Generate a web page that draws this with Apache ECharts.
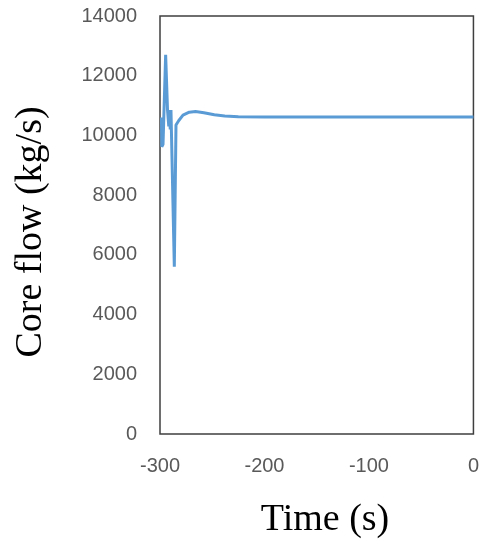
<!DOCTYPE html>
<html>
<head>
<meta charset="utf-8">
<script src="https://cdn.jsdelivr.net/npm/echarts@6/dist/echarts.min.js"></script>
<style>
  html, body { margin: 0; padding: 0; background: #fff; }
  #chart { width: 482px; height: 541px; }
</style>
</head>
<body>
<div id="chart"></div>
<script>
// Time (s) and core flow (kg/s) during the transient
const timeSec = [-298.6, -298.3, -297.1, -294.6, -292.8, -291.6, -290.9, -290.2, -289.5, -286.3, -284.7, -282, -278, -272, -266, -258, -248, -238, -225, -200, -100, 0];
const coreFlow = [10600, 9620, 9700, 12700, 10850, 10300, 10850, 10200, 10850, 5600, 10350, 10500, 10680, 10780, 10800, 10760, 10690, 10650, 10625, 10620, 10620, 10620];

const xTicks = { min: -300, max: 0, step: 100 };
const yTicks = { min: 0, max: 14000, step: 2000 };

const chart = echarts.init(document.getElementById('chart'));
const tickFont = { fontFamily: 'Liberation Sans', fontSize: 20, color: '#595959', formatter: v => String(v) };
const titleFont = 'Liberation Serif';

chart.setOption({
  animation: false,
  grid: {
    left: 160, top: 16, width: 314, height: 418,
    show: true, borderColor: '#3f3f3f', borderWidth: 1.5, backgroundColor: 'transparent'
  },
  xAxis: {
    type: 'value', min: xTicks.min, max: xTicks.max, interval: xTicks.step,
    axisLine: { show: false }, axisTick: { show: false }, splitLine: { show: false },
    axisLabel: Object.assign({ margin: 22 }, tickFont)
  },
  yAxis: {
    type: 'value', min: yTicks.min, max: yTicks.max, interval: yTicks.step,
    axisLine: { show: false }, axisTick: { show: false }, splitLine: { show: false },
    axisLabel: Object.assign({ margin: 23 }, tickFont)
  },
  series: [{
    type: 'line',
    data: timeSec.map((t, i) => [t, coreFlow[i]]),
    showSymbol: false,
    lineStyle: { color: '#5b9bd5', width: 3 },
    clip: true
  }],
  graphic: [
    {
      type: 'text', x: 325, y: 520,
      style: { text: 'Time (s)', font: '38px "' + titleFont + '"', fill: '#000', textAlign: 'center', textVerticalAlign: 'middle' }
    },
    {
      type: 'text', x: 31, y: 232, rotation: Math.PI / 2,
      style: { text: 'Core flow (kg/s)', font: '38px "' + titleFont + '"', fill: '#000', textAlign: 'center', textVerticalAlign: 'middle' }
    }
  ]
});
</script>
</body>
</html>
